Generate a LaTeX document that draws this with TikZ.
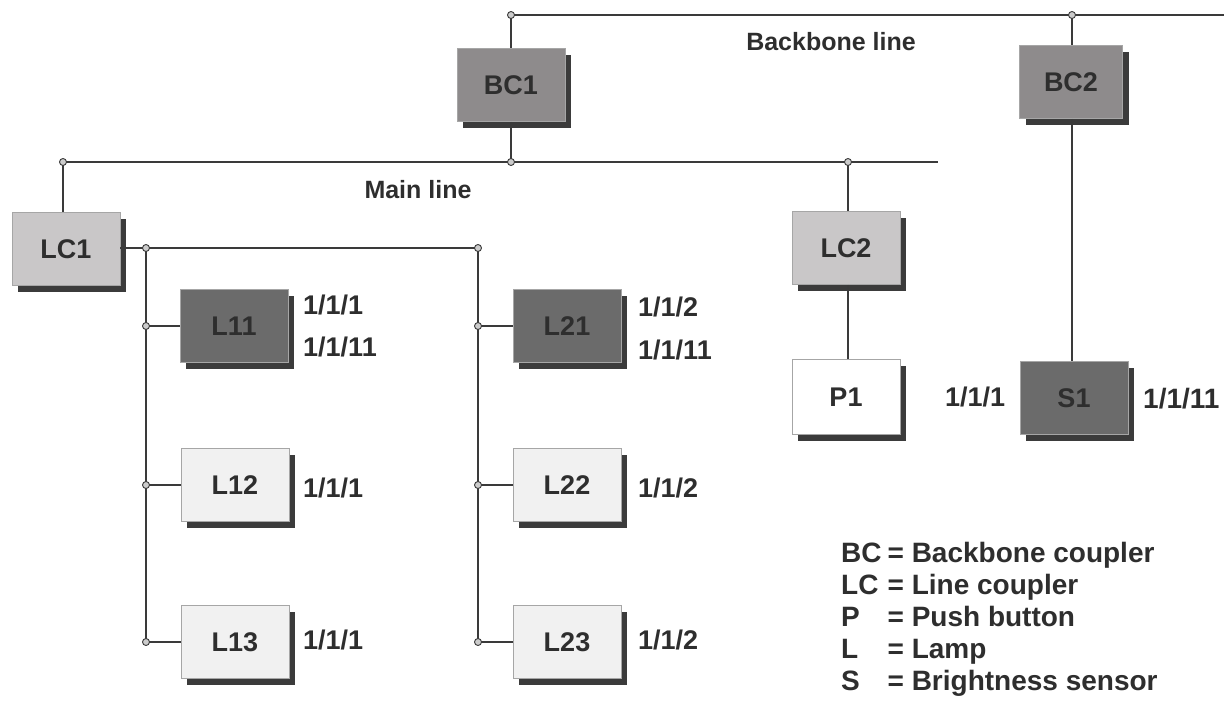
\documentclass[tikz,border=0pt]{standalone}
\usepackage{fontspec}
\setmainfont{Liberation Sans}
\usetikzlibrary{shadows}
\definecolor{linec}{HTML}{3A3A3A}
\definecolor{txtc}{HTML}{2E2E2E}
\definecolor{bcfill}{HTML}{8E8B8C}
\definecolor{lcfill}{HTML}{C9C7C8}
\definecolor{darkfill}{HTML}{6B6B6B}
\definecolor{lightfill}{HTML}{F1F1F1}
\tikzset{
  dev/.style={rectangle, draw=gray!70, line width=0.8pt, minimum width=108pt, minimum height=73pt,
    font=\fontsize{27}{30}\selectfont\bfseries, text=txtc,
    drop shadow={shadow xshift=6pt, shadow yshift=-6pt, fill=black!85, opacity=0.9}},
  bcbox/.style={dev, fill=bcfill},
  lcbox/.style={dev, fill=lcfill},
  dkbox/.style={dev, fill=darkfill},
  ltbox/.style={dev, fill=lightfill},
  wtbox/.style={dev, fill=white},
  bus/.style={draw=linec, line width=2.2pt},
  jdot/.style={circle, draw=linec, fill=gray!40, line width=0.9pt, inner sep=0pt, minimum size=7pt},
  addr/.style={anchor=west, inner sep=0pt, font=\fontsize{27}{30}\selectfont\bfseries, text=txtc},
  linelab/.style={inner sep=0pt, font=\fontsize{25}{30}\selectfont\bfseries, text=txtc},
}
\begin{document}
\begin{tikzpicture}[x=1pt,y=-1pt]
\useasboundingbox (0,0) rectangle (1224,704);
% devices
\node[bcbox] (BC1) at (511,85) {BC1};
\node[bcbox, minimum width=103pt] (BC2) at (1071,82) {BC2};
\node[lcbox] (LC1) at (66,249) {LC1};
\node[lcbox] (LC2) at (846,248) {LC2};
\node[wtbox, minimum height=75pt] (P1) at (846,397) {P1};
\node[dkbox] (S1) at (1074,398) {S1};
\node[dkbox] (L11) at (234,326) {L11};
\node[ltbox] (L12) at (235,485) {L12};
\node[ltbox] (L13) at (235,642) {L13};
\node[dkbox] (L21) at (567,326) {L21};
\node[ltbox] (L22) at (567,485) {L22};
\node[ltbox] (L23) at (567,642) {L23};
% junction coordinates
\coordinate (bbA) at (511,15);
\coordinate (bbB) at (1072,15);
\coordinate (bbEnd) at (1224,15);
\coordinate (mlA) at (63,162);
\coordinate (mlB) at (511,162);
\coordinate (mlC) at (848,162);
\coordinate (mlEnd) at (938,162);
\coordinate (l1A) at (146,248);
\coordinate (l1B) at (478,248);
% backbone line
\draw[bus] (bbA) -- (bbEnd);
\draw[bus] (bbA) -- (BC1.north -| bbA);
\draw[bus] (BC1.south -| bbA) -- (mlB);
\draw[bus] (bbB) -- (BC2.north -| bbB);
\draw[bus] (BC2.south -| bbB) -- (S1.north -| bbB);
% main line
\draw[bus] (mlA) -- (mlEnd);
\draw[bus] (mlA) -- (LC1.north -| mlA);
\draw[bus] (mlC) -- (LC2.north -| mlC);
\draw[bus] (LC2.south -| mlC) -- (P1.north -| mlC);
% line 1
\draw[bus] (LC1.east |- l1A) -- (l1B);
\draw[bus] (l1A) -- (l1A |- L13.west);
\draw[bus] (l1B) -- (l1B |- L23.west);
\foreach \n in {L11,L12,L13}{
  \draw[bus] (l1A |- \n.west) -- (\n.west);
  \node[jdot] at (l1A |- \n.west) {};
}
\foreach \n in {L21,L22,L23}{
  \draw[bus] (l1B |- \n.west) -- (\n.west);
  \node[jdot] at (l1B |- \n.west) {};
}
\node[jdot] at (l1A) {};
\node[jdot] at (l1B) {};
\node[jdot] at (bbA) {};
\node[jdot] at (bbB) {};
\node[jdot] at (mlA) {};
\node[jdot] at (mlB) {};
\node[jdot] at (mlC) {};
% line labels
\node[linelab] (bbl) at (831,42) {Backbone line};
\node[linelab] (mll) at (418,190) {Main line};
% addresses
\node[addr] (a11a) at (303,305) {1/1/1};
\node[addr] (a11b) at (303,347) {1/1/11};
\node[addr] (a12) at (303,488) {1/1/1};
\node[addr] (a13) at (303,640) {1/1/1};
\node[addr] (a21a) at (638,307) {1/1/2};
\node[addr] (a21b) at (638,350) {1/1/11};
\node[addr] (a22) at (638,488) {1/1/2};
\node[addr] (a23) at (638,640) {1/1/2};
\node[addr] (ap1) at (945,397) {1/1/1};
\node[addr, font=\fontsize{28}{30}\selectfont\bfseries] (as1) at (1143,399) {1/1/11};
% legend
\node[anchor=north west, inner sep=0pt, text=txtc, font=\fontsize{28}{32}\selectfont\bfseries] (legend) at (841,540)
{\begin{tabular}{@{}l@{\hspace{6pt}}l@{}}
BC & = Backbone coupler\\
LC & = Line coupler\\
P & = Push button\\
L & = Lamp\\
S & = Brightness sensor
\end{tabular}};
\end{tikzpicture}
\end{document}
